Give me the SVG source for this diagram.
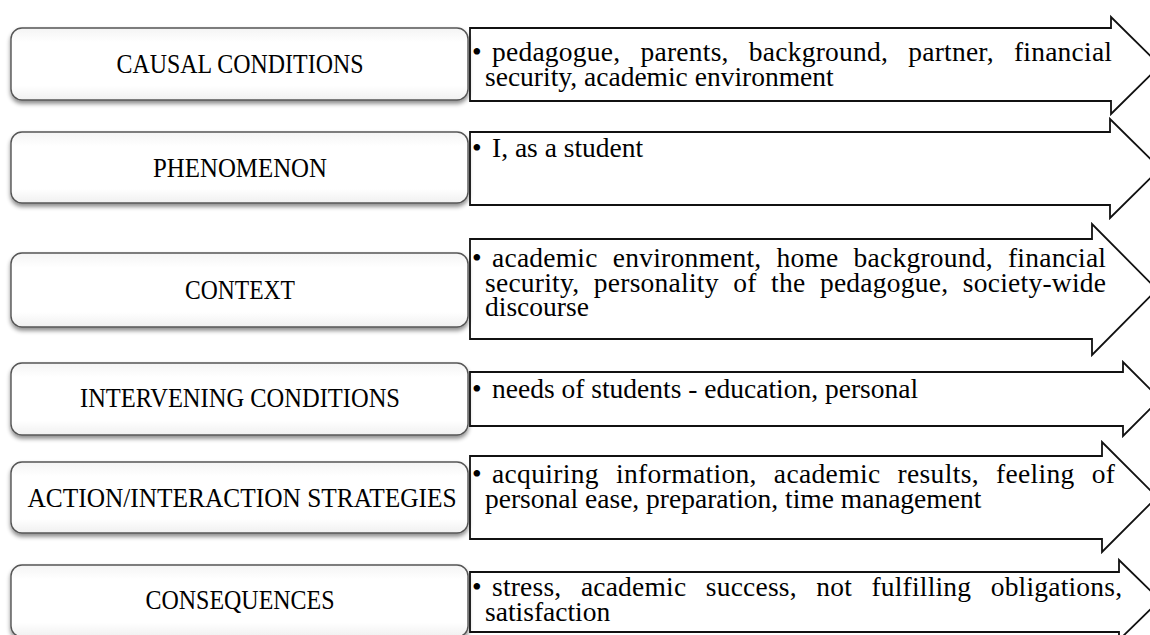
<svg xmlns="http://www.w3.org/2000/svg" width="1150" height="635" viewBox="0 0 1150 635">
<defs>
<filter id="sh" x="-5%" y="-20%" width="110%" height="150%">
<feDropShadow dx="0" dy="3" stdDeviation="2" flood-color="#000" flood-opacity="0.45"/>
</filter>
<linearGradient id="bf" x1="0" y1="0" x2="0" y2="1">
<stop offset="0" stop-color="#f4f4f4"/>
<stop offset="0.2" stop-color="#ffffff"/>
<stop offset="0.8" stop-color="#ffffff"/>
<stop offset="1" stop-color="#f0f0f0"/>
</linearGradient>
</defs>
<style>
.box{fill:url(#bf);stroke:#555;stroke-width:1.4;filter:url(#sh)}
.lab{font-family:"Liberation Serif",serif;font-size:26.5px;fill:#000;text-anchor:middle}
.arr{fill:#fff;stroke:#111;stroke-width:1.8;stroke-linejoin:miter}
.txt{font-family:"Liberation Serif",serif;font-size:27.5px;fill:#000}
</style>
<rect width="1150" height="635" fill="#fff"/>
<g id="connectors">
<polygon class="arr" points="470,28 1111,28 1111,17 1160,65.5 1111,114 1111,101 470,101"/>
<polygon class="arr" points="470,132 1110,132 1110,119 1160,168.5 1110,218 1110,205 470,205"/>
<polygon class="arr" points="470,239 1092,239 1092,224 1157,289.5 1092,355 1092,339 470,339"/>
<polygon class="arr" points="470,372 1123,372 1123,362 1160,399 1123,436 1123,426 470,426"/>
<polygon class="arr" points="470,456 1102,456 1102,442 1157,497 1102,552 1102,539 470,539"/>
<polygon class="arr" points="470,572 1119,572 1119,560 1160,600 1119,640 1119,632 470,632"/>
</g>
<g id="n1">
<rect class="box" x="11" y="28" width="457" height="72" rx="11"/>
<text class="lab" x="240" y="73" textLength="247" lengthAdjust="spacingAndGlyphs">CAUSAL CONDITIONS</text>
<text class="txt" x="472" y="61">•</text>
<text class="txt" x="492" y="61" word-spacing="13" textLength="620">pedagogue, parents, background, partner, financial</text>
<text class="txt" x="485" y="86">security, academic environment</text>
</g>
<g id="n2">
<rect class="box" x="11" y="132" width="457" height="71" rx="11"/>
<text class="lab" x="240" y="177" textLength="174" lengthAdjust="spacingAndGlyphs">PHENOMENON</text>
<text class="txt" x="472" y="157">•</text>
<text class="txt" x="492" y="157">I, as a student</text>
</g>
<g id="n3">
<rect class="box" x="11" y="253" width="457" height="74" rx="11"/>
<text class="lab" x="240" y="299" textLength="110" lengthAdjust="spacingAndGlyphs">CONTEXT</text>
<text class="txt" x="472" y="267">•</text>
<text class="txt" x="492" y="267" word-spacing="8" textLength="614">academic environment, home background, financial</text>
<text class="txt" x="485" y="291.5" word-spacing="7.4" textLength="621">security, personality of the pedagogue, society-wide</text>
<text class="txt" x="485" y="316">discourse</text>
</g>
<g id="n4">
<rect class="box" x="11" y="363" width="457" height="72" rx="11"/>
<text class="lab" x="240" y="407" textLength="320" lengthAdjust="spacingAndGlyphs">INTERVENING CONDITIONS</text>
<text class="txt" x="472" y="398">•</text>
<text class="txt" x="492" y="398">needs of students - education, personal</text>
</g>
<g id="n5">
<rect class="box" x="11" y="462" width="457" height="71" rx="11"/>
<text class="lab" x="242" y="507" textLength="429" lengthAdjust="spacingAndGlyphs">ACTION/INTERACTION STRATEGIES</text>
<text class="txt" x="472" y="483">•</text>
<text class="txt" x="492" y="483" word-spacing="9.8" textLength="623">acquiring information, academic results, feeling of</text>
<text class="txt" x="485" y="507.5">personal ease, preparation, time management</text>
</g>
<g id="n6">
<rect class="box" x="11" y="565" width="457" height="72" rx="11"/>
<text class="lab" x="240" y="609" textLength="189" lengthAdjust="spacingAndGlyphs">CONSEQUENCES</text>
<text class="txt" x="472" y="596">•</text>
<text class="txt" x="492" y="596" word-spacing="12.4" textLength="630">stress, academic success, not fulfilling obligations,</text>
<text class="txt" x="485" y="620.5">satisfaction</text>
</g>
</svg>
